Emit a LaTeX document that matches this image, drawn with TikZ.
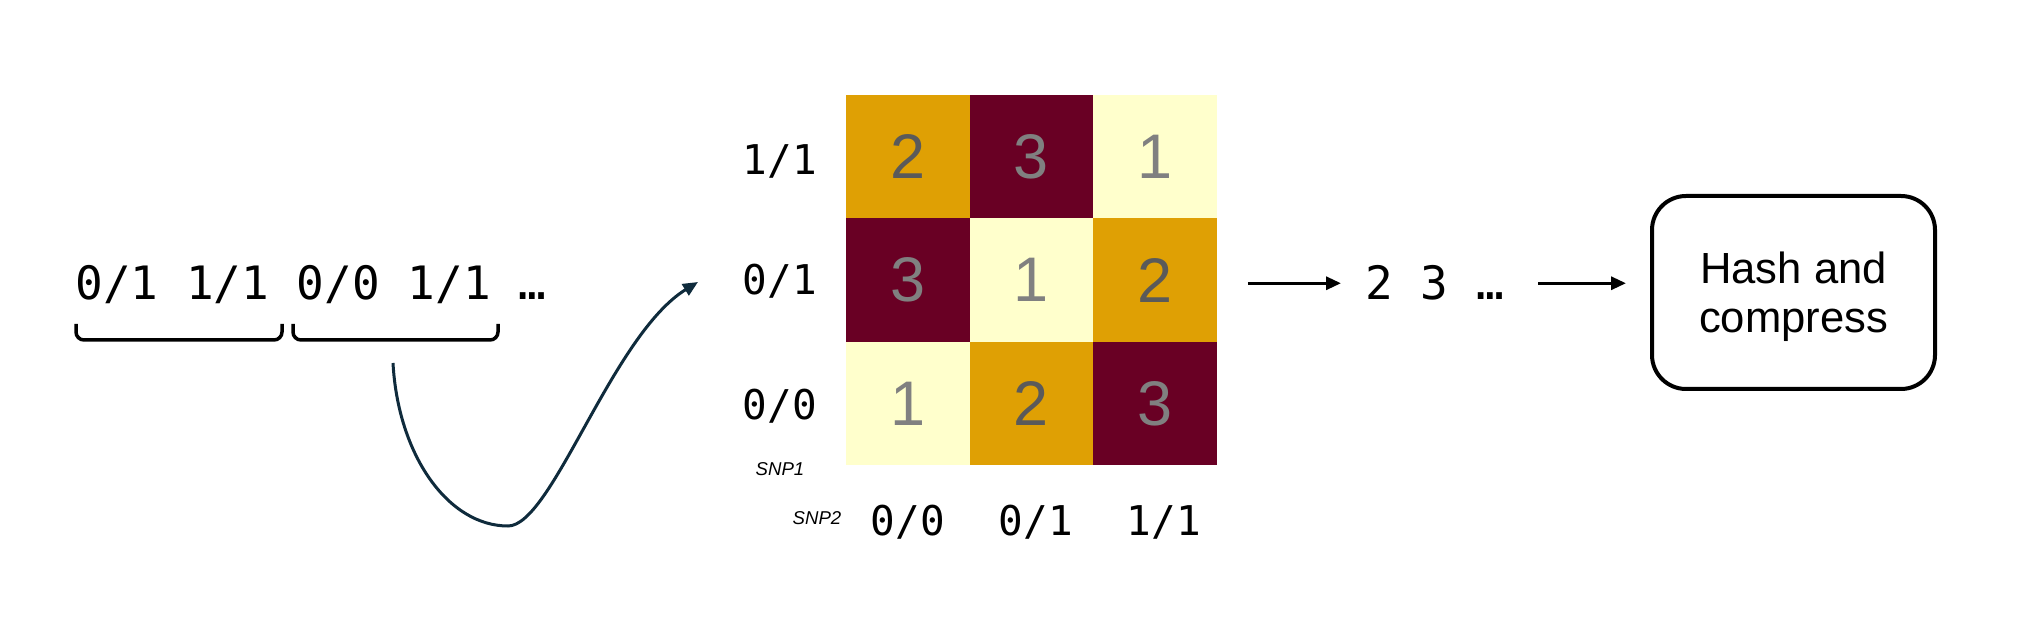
\documentclass[tikz,border=0pt]{standalone}
\usepackage{fontspec}
\setmainfont{Liberation Sans}
\newfontfamily\monofont{DejaVu Sans Mono}
\usetikzlibrary{arrows.meta,fit}
\definecolor{cOrange}{HTML}{DFA004}
\definecolor{cMaroon}{HTML}{690024}
\definecolor{cCream}{HTML}{FFFFCC}
\definecolor{cNavy}{HTML}{0F2B3C}
\definecolor{gDark}{HTML}{5A5A5A}
\definecolor{gLight}{HTML}{808080}
\tikzset{
  cell/.style={minimum size=61.75pt, inner sep=0pt, draw=none,
    font=\fontsize{31.5pt}{36pt}\selectfont},
  orangecell/.style={cell, fill=cOrange, text=gDark},
  maroon/.style={cell, fill=cMaroon, text=gLight},
  cream/.style={cell, fill=cCream, text=gLight},
  seqtext/.style={inner sep=0pt, font=\monofont\fontsize{23pt}{27pt}\selectfont},
  axislbl/.style={inner sep=0pt, anchor=base, font=\monofont\fontsize{20.5pt}{24pt}\selectfont},
  snp/.style={inner sep=0pt, font=\itshape\fontsize{9.3pt}{11pt}\selectfont},
  bracepath/.style={line width=1.75pt, rounded corners=4pt},
  arr/.style={line width=1.6pt, -{Triangle[length=7.5pt,width=6.5pt]}},
  curvearr/.style={line width=1.5pt, draw=cNavy, -{Triangle[length=7.5pt,width=6.5pt]}},
  hashbox/.style={draw, line width=2pt, rounded corners=17pt, minimum width=141.5pt,
    minimum height=96.5pt, align=center, inner sep=0pt, text depth=0pt,
    font=\fontsize{21.8pt}{24.5pt}\selectfont}
}
\begin{document}
\begin{tikzpicture}[x=0.5pt,y=-0.5pt]
\fill[white] (0,0) rectangle (2024,630);
\useasboundingbox (0,0) rectangle (2024,630);

% genotype sequence
\node[seqtext, anchor=base west] (seq) at (75,300) {0/1 1/1 0/0 1/1 …};
\coordinate (b1l) at (76,324);
\coordinate (b1r) at (282,324);
\coordinate (b2l) at (293,324);
\coordinate (b2r) at (498,324);
\draw[bracepath] (b1l) -- ++(0,16) -| (b1r);
\draw[bracepath] (b2l) -- ++(0,16) -| (b2r);

% curved arrow
\coordinate (cs) at (393,363);
\coordinate (ce) at (698,282);
\draw[curvearr] (cs) .. controls (398,455) and (448,526) .. (508,526)
  .. controls (552,526) and (612,335) .. (ce);

% matrix cells
\node[orangecell] (c11) at (907.75,156.75) {2};
\node[maroon]     (c12) at (1031.25,156.75) {3};
\node[cream]      (c13) at (1154.75,156.75) {1};
\node[maroon]     (c21) at (907.75,280.25) {3};
\node[cream]      (c22) at (1031.25,280.25) {1};
\node[orangecell] (c23) at (1154.75,280.25) {2};
\node[cream]      (c31) at (907.75,403.75) {1};
\node[orangecell] (c32) at (1031.25,403.75) {2};
\node[maroon]     (c33) at (1154.75,403.75) {3};
\node[fit=(c11)(c33), inner sep=0pt] (mat) {};

% axis labels
\node[axislbl] (r1) at (780,175) {1/1};
\node[axislbl] (r2) at (780,295) {0/1};
\node[axislbl] (r3) at (780,420) {0/0};
\node[axislbl] (k1) at (908,535) {0/0};
\node[axislbl] (k2) at (1036,535) {0/1};
\node[axislbl] (k3) at (1164,535) {1/1};
\node[snp] (snp1) at (780,469) {SNP1};
\node[snp] (snp2) at (817,518) {SNP2};

% output and hash
\node[seqtext, anchor=base west] (out) at (1365,300) {2 3 …};
\node[hashbox] (hash) at (1793.5,292.5) {Hash and\\compress};

\draw[arr, shorten <=15.25pt, shorten >=12pt] (mat.east |- out.west) -- (out.west);
\draw[arr, shorten <=17pt, shorten >=12pt] (out.east) -- (hash.west |- out.east);
\end{tikzpicture}
\end{document}
